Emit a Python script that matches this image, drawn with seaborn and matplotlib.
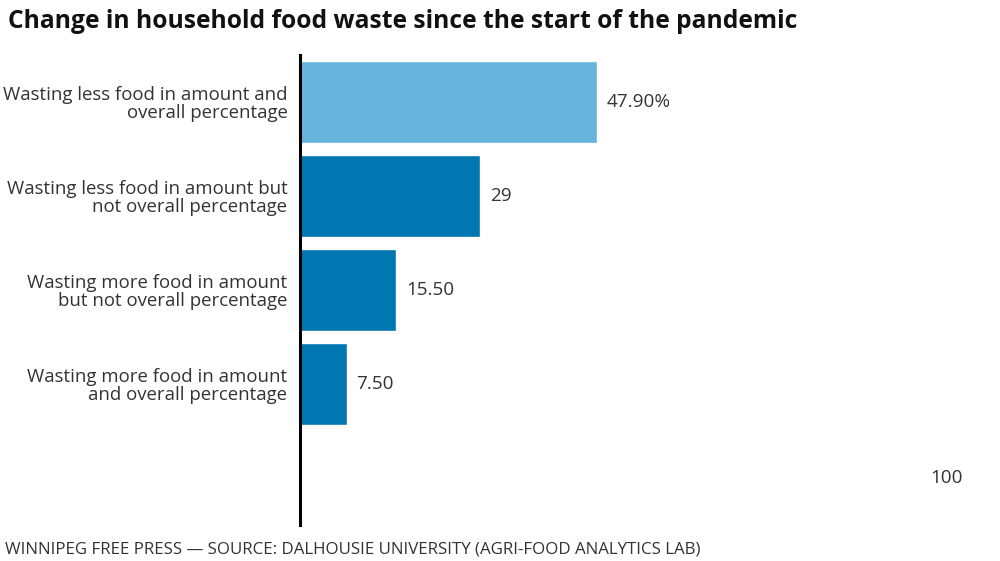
import matplotlib
matplotlib.use('Agg')
import matplotlib.pyplot as plt
import seaborn as sns
import pandas as pd

categories = [
    'Wasting less food in amount and\noverall percentage',
    'Wasting less food in amount but\nnot overall percentage',
    'Wasting more food in amount\nbut not overall percentage',
    'Wasting more food in amount\nand overall percentage',
    '',
]
values = [47.9, 29, 15.5, 7.5, 100]
value_labels = ['47.90%', '29', '15.50', '7.50', '100']
colors = ['#66b3db', '#0077b1', '#0077b1', '#0077b1', (1, 1, 1, 0)]

sns.set_theme(style='white')
plt.rcParams['font.family'] = ['Open Sans', 'DejaVu Sans']

df = pd.DataFrame({'cat': categories, 'val': values})

fig = plt.figure(figsize=(10, 5.61), dpi=100)
ax = fig.add_axes([0.30, 1 - 525 / 561, 0.67, 470 / 561])

sns.barplot(data=df, y='cat', x='val', hue='cat', palette=colors,
            orient='h', width=0.88, legend=False, ax=ax, saturation=1)

ax.set_xlim(0, 0.67 * 1000 / 6.2)
ax.set_ylim(4.5, -0.5)
ax.set_xlabel('')
ax.set_ylabel('')
ax.set_xticks([])
ax.tick_params(axis='y', length=0, pad=9, labelsize=13.4, labelcolor='#333333')
for lbl in ax.get_yticklabels():
    lbl.set_horizontalalignment('right')
    lbl.set_linespacing(1.0)

for s in ['top', 'right', 'bottom']:
    ax.spines[s].set_visible(False)
ax.spines['left'].set_color('black')
ax.spines['left'].set_linewidth(2.2)

for i, (v, t) in enumerate(zip(values, value_labels)):
    ax.text(v + 1.6, i, t, va='center', ha='left', fontsize=13.6, color='#333333')

fig.text(0.008, 1 - 22 / 561, 'Change in household food waste since the start of the pandemic',
         fontsize=17.7, fontweight='bold', color='#111111', va='center', ha='left')
fig.text(0.005, 1 - 550 / 561,
         'WINNIPEG FREE PRESS \u2014 SOURCE: DALHOUSIE UNIVERSITY (AGRI-FOOD ANALYTICS LAB)',
         fontsize=12.2, color='#333333', va='center', ha='left')

fig.savefig('out.png', dpi=100, facecolor='white')
